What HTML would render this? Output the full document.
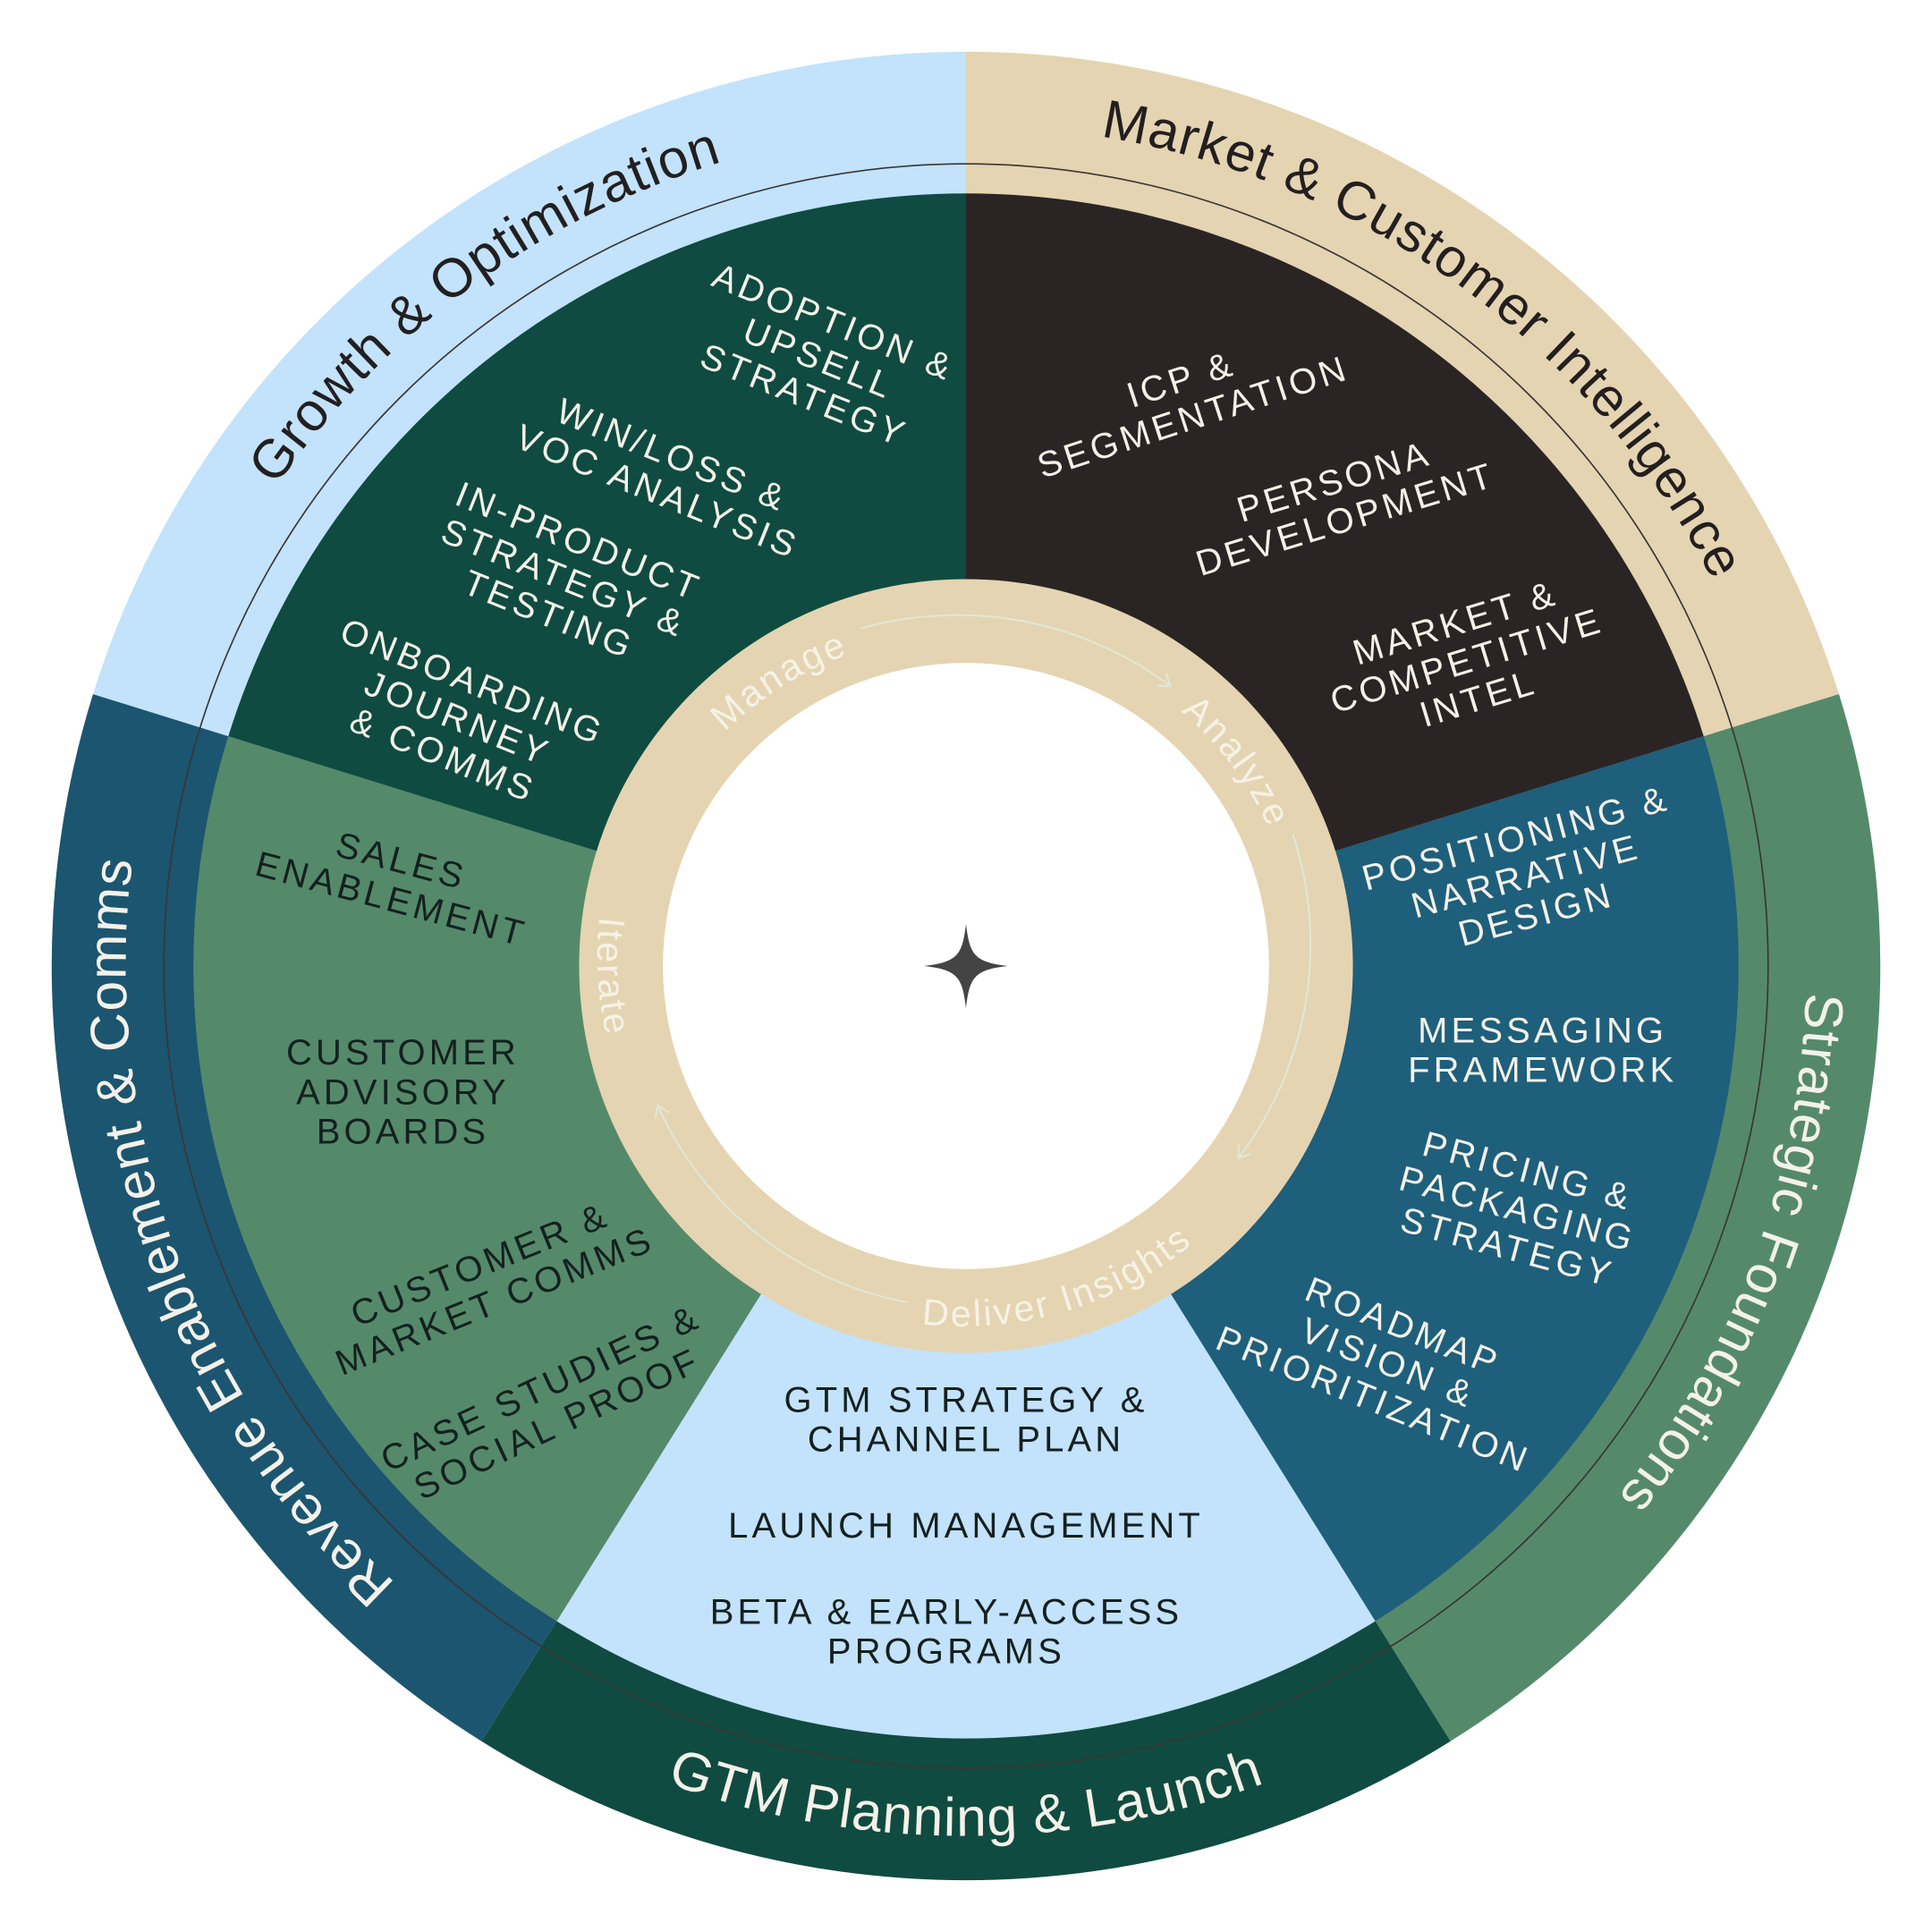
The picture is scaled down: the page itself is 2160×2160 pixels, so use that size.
<!DOCTYPE html>
<html><head><meta charset="utf-8"><style>
html,body{margin:0;padding:0;background:#fff;}
svg{display:block;}
.w{font-family:"Liberation Sans",sans-serif;font-size:29px;letter-spacing:3px;text-anchor:middle;}
.lt{fill:#f4f1e8;}
.dk{fill:#15201f;}
.o{font-family:"Liberation Sans",sans-serif;font-size:44px;letter-spacing:0.8px;}
.r{font-family:"Liberation Sans",sans-serif;font-size:30px;letter-spacing:2px;fill:#f6f2e6;}
</style></head><body>
<svg width="2160" height="2160" viewBox="0 0 1568 1568" xmlns="http://www.w3.org/2000/svg">
<defs>
<path id="pM" d="M807.8,102.4 A682,682 0 0 1 1424.9,550.8"/>
<path id="pS" d="M1445.7,619 A682,682 0 0 1 1175.2,1342.7"/>
<path id="pG" d="M389.2,1369.3 A706,706 0 0 0 1178.8,1369.3"/>
<path id="pR" d="M392.8,1342.7 A682,682 0 0 1 125.3,607.5"/>
<path id="pO" d="M143.1,550.8 A682,682 0 0 1 760.2,102.4"/>
<path id="iM" d="M540,660 A268,268 0 0 1 770,516"/>
<path id="iA" d="M900,540 A268,268 0 0 1 1050,740"/>
<path id="iD" d="M640,1040 A292,292 0 0 0 1040,920"/>
<path id="iI" d="M530,620 A292,292 0 0 0 550,960"/>
<marker id="ar" markerWidth="14" markerHeight="14" refX="10" refY="7" orient="auto" markerUnits="userSpaceOnUse">
<path d="M1,1 L10,7 L1,13" fill="none" stroke="#dfe8d6" stroke-width="1.5"/>
</marker>
</defs>
<path d="M784,784 L784,42 A742,742 0 0 1 1492.5,563.3 Z" fill="#e5d4b1"/>
<path d="M784,784 L1492.5,563.3 A742,742 0 0 1 1177.2,1413.2 Z" fill="#548a6a"/>
<path d="M784,784 L1177.2,1413.2 A742,742 0 0 1 390.8,1413.2 Z" fill="#0f4b40"/>
<path d="M784,784 L390.8,1413.2 A742,742 0 0 1 75.5,563.3 Z" fill="#1b5570"/>
<path d="M784,784 L75.5,563.3 A742,742 0 0 1 784,42 Z" fill="#c2e3fb"/>
<circle cx="784" cy="784" r="651" fill="none" stroke="#3a3536" stroke-width="1.2"/>
<path d="M784,784 L784,157 A627,627 0 0 1 1382.7,597.5 Z" fill="#2a2524"/>
<path d="M784,784 L1382.7,597.5 A627,627 0 0 1 1116.2,1315.7 Z" fill="#1e5f7b"/>
<path d="M784,784 L1116.2,1315.7 A627,627 0 0 1 451.8,1315.7 Z" fill="#c2e3fb"/>
<path d="M784,784 L451.8,1315.7 A627,627 0 0 1 185.3,597.5 Z" fill="#548a6a"/>
<path d="M784,784 L185.3,597.5 A627,627 0 0 1 784,157 Z" fill="#0f4b40"/>
<circle cx="784" cy="784" r="314" fill="#e5d4b1"/>
<circle cx="784" cy="784" r="246" fill="#fff"/>
<text class="o" fill="#231f20"><textPath href="#pM" startOffset="50%" text-anchor="middle">Market &amp; Customer Intelligence</textPath></text>
<text class="o" fill="#f4f1e8"><textPath href="#pS" startOffset="50%" text-anchor="middle">Strategic Foundations</textPath></text>
<text class="o" fill="#f4f1e8"><textPath href="#pG" startOffset="50%" text-anchor="middle">GTM Planning &amp; Launch</textPath></text>
<text class="o" fill="#f4f1e8"><textPath href="#pR" startOffset="50%" text-anchor="middle">Revenue Enablement &amp; Comms</textPath></text>
<text class="o" fill="#231f20"><textPath href="#pO" startOffset="50%" text-anchor="middle">Growth &amp; Optimization</textPath></text>
<text class="r"><textPath href="#iM" startOffset="50%" text-anchor="middle">Manage</textPath></text>
<text class="r"><textPath href="#iA" startOffset="50%" text-anchor="middle">Analyze</textPath></text>
<text class="r"><textPath href="#iD" startOffset="50%" text-anchor="middle">Deliver Insights</textPath></text>
<text class="r"><textPath href="#iI" startOffset="50%" text-anchor="middle">Iterate</textPath></text>
<g fill="none" stroke="#dfe8d6" stroke-width="1.5">
<path d="M698.7,510 A288,288 0 0 1 950,557" marker-end="url(#ar)"/>
<path d="M1049.2,676.9 A286,286 0 0 1 1005,940" marker-end="url(#ar)"/>
<path d="M736.4,1057 A278,278 0 0 1 533.7,897" marker-end="url(#ar)"/>
</g>
<path d="M784,750 C787,774 790,781 818,784 C790,787 787,794 784,818 C781,794 778,787 750,784 C778,781 781,774 784,750 Z" fill="#444"/>
<text class="w lt" transform="translate(963,322) rotate(-18)"><tspan x="0" dy="-5">ICP &amp;</tspan><tspan x="0" dy="32">SEGMENTATION</tspan></text>
<text class="w lt" transform="translate(1087,405) rotate(-17)"><tspan x="0" dy="-5">PERSONA</tspan><tspan x="0" dy="32">DEVELOPMENT</tspan></text>
<text class="w lt" transform="translate(1190,535) rotate(-17)"><tspan x="0" dy="-21">MARKET &amp;</tspan><tspan x="0" dy="32">COMPETITIVE</tspan><tspan x="0" dy="32">INTEL</tspan></text>
<text class="w lt" transform="translate(665,290) rotate(22)"><tspan x="0" dy="-21">ADOPTION &amp;</tspan><tspan x="0" dy="32">UPSELL</tspan><tspan x="0" dy="32">STRATEGY</tspan></text>
<text class="w lt" transform="translate(540,383) rotate(22)"><tspan x="0" dy="-5">WIN/LOSS &amp;</tspan><tspan x="0" dy="32">VOC ANALYSIS</tspan></text>
<text class="w lt" transform="translate(458,468) rotate(22)"><tspan x="0" dy="-21">IN-PRODUCT</tspan><tspan x="0" dy="32">STRATEGY &amp;</tspan><tspan x="0" dy="32">TESTING</tspan></text>
<text class="w lt" transform="translate(372,582) rotate(22)"><tspan x="0" dy="-21">ONBOARDING</tspan><tspan x="0" dy="32">JOURNEY</tspan><tspan x="0" dy="32">&amp; COMMS</tspan></text>
<text class="w dk" transform="translate(322,713) rotate(15)"><tspan x="0" dy="-5">SALES</tspan><tspan x="0" dy="32">ENABLEMENT</tspan></text>
<text class="w dk" transform="translate(327,885)"><tspan x="0" dy="-21">CUSTOMER</tspan><tspan x="0" dy="32">ADVISORY</tspan><tspan x="0" dy="32">BOARDS</tspan></text>
<text class="w dk" transform="translate(395,1040) rotate(-22)"><tspan x="0" dy="-5">CUSTOMER &amp;</tspan><tspan x="0" dy="32">MARKET COMMS</tspan></text>
<text class="w dk" transform="translate(445,1140) rotate(-25)"><tspan x="0" dy="-5">CASE STUDIES &amp;</tspan><tspan x="0" dy="32">SOCIAL PROOF</tspan></text>
<text class="w lt" transform="translate(1238,710) rotate(-15)"><tspan x="0" dy="-21">POSITIONING &amp;</tspan><tspan x="0" dy="32">NARRATIVE</tspan><tspan x="0" dy="32">DESIGN</tspan></text>
<text class="w lt" transform="translate(1252,851)"><tspan x="0" dy="-5">MESSAGING</tspan><tspan x="0" dy="32">FRAMEWORK</tspan></text>
<text class="w lt" transform="translate(1232,980) rotate(15)"><tspan x="0" dy="-21">PRICING &amp;</tspan><tspan x="0" dy="32">PACKAGING</tspan><tspan x="0" dy="32">STRATEGY</tspan></text>
<text class="w lt" transform="translate(1127,1105) rotate(22)"><tspan x="0" dy="-21">ROADMAP</tspan><tspan x="0" dy="32">VISION &amp;</tspan><tspan x="0" dy="32">PRIORITIZATION</tspan></text>
<text class="w dk" transform="translate(784,1151)"><tspan x="0" dy="-5">GTM STRATEGY &amp;</tspan><tspan x="0" dy="32">CHANNEL PLAN</tspan></text>
<text class="w dk" transform="translate(784,1237)"><tspan x="0" dy="11">LAUNCH MANAGEMENT</tspan></text>
<text class="w dk" transform="translate(768,1323)"><tspan x="0" dy="-5">BETA &amp; EARLY-ACCESS</tspan><tspan x="0" dy="32">PROGRAMS</tspan></text>
</svg>
</body></html>
